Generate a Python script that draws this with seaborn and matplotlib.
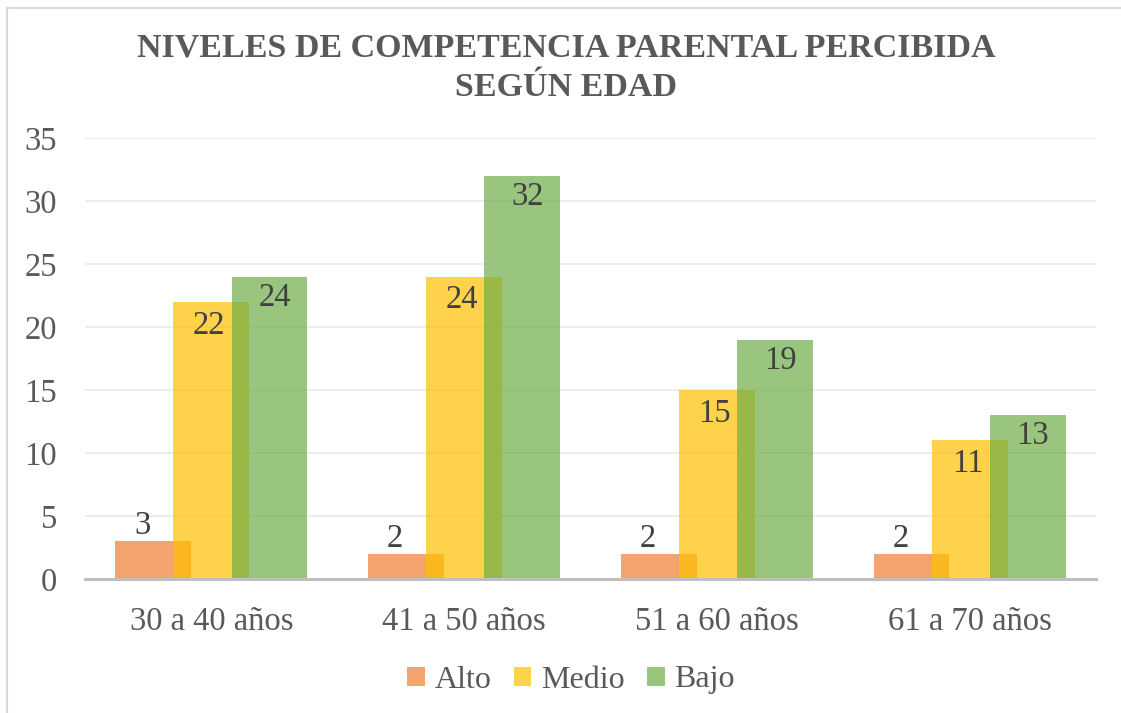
import matplotlib
matplotlib.use("Agg")
import matplotlib.pyplot as plt
import seaborn as sns
import pandas as pd
from matplotlib.patches import Rectangle, Patch

categorias = ["30 a 40 años", "41 a 50 años", "51 a 60 años", "61 a 70 años"]
niveles = ["Alto", "Medio", "Bajo"]
alto = [3, 2, 2, 2]
medio = [22, 24, 15, 11]
bajo = [24, 32, 19, 13]
colores = ["#ED7D31", "#FFC000", "#70AD47"]
titulo = "NIVELES DE COMPETENCIA PARENTAL PERCIBIDA\nSEGÚN EDAD"

rows = []
for nivel, vals in zip(niveles, [alto, medio, bajo]):
    for cat, v in zip(categorias, vals):
        rows.append({"edad": cat, "valor": v, "nivel": nivel})
df = pd.DataFrame(rows)

sns.set_theme(style="white")
plt.rcParams["font.family"] = ["Liberation Serif", "DejaVu Serif"]

W, H = 1121, 713
fig = plt.figure(figsize=(W / 100, H / 100), dpi=100)
ax = fig.add_axes([85 / W, 134 / H, 1011 / W, 441 / H])

sns.barplot(data=df, x="edad", y="valor", hue="nivel", order=categorias,
            hue_order=niveles, palette=colores, dodge=True, width=0.69,
            alpha=0.7, ax=ax, legend=False, saturation=1, errorbar=None)

# widen bars so that they overlap (Excel-style overlap)
new_w = 0.30
for p in ax.patches:
    c = p.get_x() + p.get_width() / 2
    p.set_width(new_w)
    p.set_x(c - new_w / 2)
    p.set_edgecolor("none")
    p.set_linewidth(0)

ax.set_xlim(-0.5, 3.5)
ax.set_ylim(0, 35)
ax.set_yticks(range(0, 36, 5))
ax.yaxis.grid(True, color="#EDEDED", linewidth=1.4)
ax.set_axisbelow(True)
for s in ["left", "right", "top"]:
    ax.spines[s].set_visible(False)
ax.spines["bottom"].set_color("#BFBFBF")
ax.spines["bottom"].set_linewidth(2.2)
ax.tick_params(axis="both", length=0, labelsize=23.5, labelcolor="#595959")
ax.tick_params(axis="y", pad=20)
ax.tick_params(axis="x", pad=20)
ax.set_xlabel("")
ax.set_ylabel("")

offsets = {"Alto": ((-8, 0.0), "bottom"), "Medio": ((-1.5, -17), "center"),
           "Bajo": ((3.6, -15), "center")}
for cont, nivel in zip(ax.containers, niveles):
    (dx, dy), va = offsets[nivel]
    for p, v in zip(cont.patches, cont.datavalues):
        ax.annotate(f"{v:g}", xy=(p.get_x() + p.get_width() / 2, p.get_height()),
                    xytext=(dx, dy), textcoords="offset points",
                    ha="center", va=va, fontsize=23.5, color="#404040")

fig.text(566 / W, 1 - 68 / H, titulo, ha="center", va="center", fontsize=24.5,
         fontweight="bold", color="#595959", linespacing=1.36)

handles = [Patch(facecolor=c, alpha=0.7, edgecolor="none") for c in colores]
fig.legend(handles, niveles, loc="center", bbox_to_anchor=(571 / W, 33 / H),
           ncol=3, frameon=False, fontsize=23, labelcolor="#595959",
           handlelength=0.55, handleheight=0.55, handletextpad=0.3,
           columnspacing=0.7)

fig.patches.append(Rectangle((7 / W, -0.1), 2, 1.1 - 8 / H, transform=fig.transFigure,
                             fill=False, edgecolor="#D9D9D9", linewidth=1.5))

fig.savefig("out.png", dpi=100)
